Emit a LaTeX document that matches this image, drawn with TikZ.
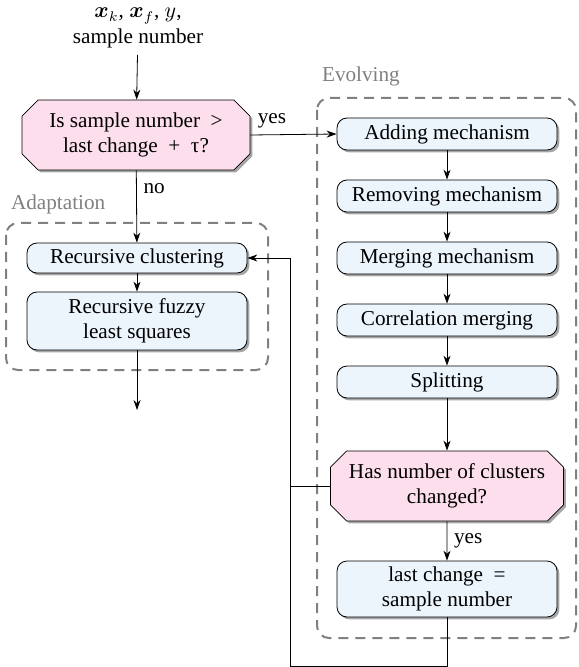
\documentclass[tikz,border=0pt]{standalone}
\usepackage{amsmath}
\usepackage{fontspec}
\setmainfont{Liberation Serif}
\usepackage{tikz}
\usetikzlibrary{shapes.misc,shadows,arrows.meta}

\definecolor{azulclaro}{RGB}{236,244,252}
\definecolor{rosa}{RGB}{252,222,236}
\definecolor{cinza}{RGB}{128,128,128}

\begin{document}
\begin{tikzpicture}[x=0.5pt,y=-0.5pt,>={Stealth[length=5pt,width=3.5pt]},
	font=\fontsize{10.6}{12.7}\selectfont,
	bloco/.style={draw, rounded corners=5pt, fill=azulclaro, align=center, inner sep=2pt,
		minimum width=110pt, minimum height=16pt,
		drop shadow={shadow xshift=1.2pt, shadow yshift=-1.2pt, fill=black, opacity=.35}},
	decisao/.style={draw, chamfered rectangle, chamfered rectangle xsep=5pt, fill=rosa, align=center,
		inner sep=2pt, minimum width=114pt, minimum height=35pt,
		drop shadow={shadow xshift=1.2pt, shadow yshift=-1.2pt, fill=black, opacity=.35}},
	grupo/.style={draw=cinza, line width=1pt, dash pattern=on 5pt off 3.5pt, rounded corners=6pt},
	rotulo/.style={text=cinza, anchor=west}]
			\useasboundingbox (0,0) rectangle (578,667);
			% grupos
			\draw[grupo] (6,223) rectangle (268,370);
			\node[rotulo] (adapt) at (4,204) {Adaptation};
			\draw[grupo] (317,98) rectangle (576,638);
			\node[rotulo] (evol) at (315,76) {Evolving};
			% entrada e decisao
			\node[align=center] (entrada) at (138,28) {$\boldsymbol{x}_k$, $\boldsymbol{x}_f$, $y$,\\sample number};
			\node[decisao] (teste) at (136,135) {Is sample number \ >\\last change \ + \ τ?};
			% adaptacao
			\node[bloco, minimum height=15pt] (clust) at (137,258) {Recursive clustering};
			\node[bloco, minimum height=29pt] (rfls) at (137,321) {Recursive fuzzy\\least squares};
			\coordinate (saida) at (137,410);
			% evolucao
			\node[bloco] (add) at (447,134) {Adding mechanism};
			\node[bloco] (rem) at (447,196) {Removing mechanism};
			\node[bloco] (merge) at (447,258) {Merging mechanism};
			\node[bloco] (corr) at (447,320) {Correlation merging};
			\node[bloco] (split) at (447,382) {Splitting};
			\node[decisao, minimum width=116.5pt] (mudou) at (447,486) {Has number of clusters\\changed?};
			\node[bloco, minimum height=28pt] (ultima) at (447,589) {last change \ =\\sample number};
			\coordinate (c1) at (447,666);
			\coordinate (c2) at (290,666);
			\coordinate (c3) at (290,258);
			\coordinate (c4) at (290,486);
			% setas
			\draw[->] (entrada) -- (teste);
			\draw[->] (teste.east) -- (add.west) node[pos=.25, above] {yes};
			\draw[->] (teste) -- (clust) node[pos=.25, right] {no};
			\draw[->] (clust) -- (rfls);
			\draw[->] (rfls) -- (saida);
			\draw[->] (add) -- (rem);
			\draw[->] (rem) -- (merge);
			\draw[->] (merge) -- (corr);
			\draw[->] (corr) -- (split);
			\draw[->] (split) -- (mudou);
			\draw[->] (mudou) -- (ultima) node[midway, right] {yes};
			\draw (ultima) -- (c1) -- (c2) -- (c3);
			\draw[->] (c3) -- (clust.east);
			\draw (mudou.west) -- (c4);
		\end{tikzpicture}
\end{document}
